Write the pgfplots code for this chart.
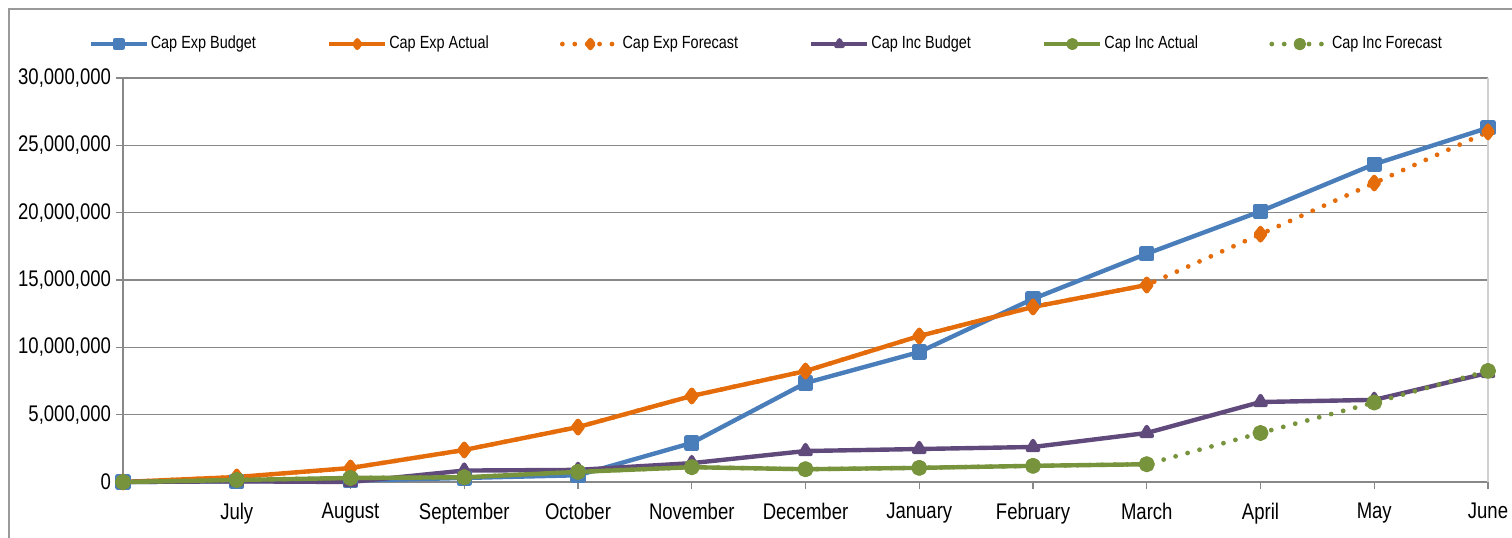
\documentclass[border=0pt]{standalone}
\usepackage{fontspec}
\setmainfont{Liberation Sans}[FakeStretch=0.82]
\usepackage{pgfplots}
\pgfplotsset{compat=1.18}
\definecolor{cblue}{HTML}{4A7EBB}
\definecolor{corange}{HTML}{E46C0A}
\definecolor{cpurple}{HTML}{604A7B}
\definecolor{cgreen}{HTML}{77933C}
\definecolor{gridgray}{HTML}{888888}
\definecolor{framegray}{HTML}{9A9A9A}
\begin{document}
\begin{tikzpicture}
\clip (0,0) rectangle (756pt,268.5pt);
\path[use as bounding box] (0,0) rectangle (756pt,268.5pt);
\draw[framegray, line width=1.1pt] (4.4pt,-10pt) -- (4.4pt,263.9pt) -- (770pt,263.9pt);
\begin{axis}[
  at={(61.5pt,27.5pt)}, anchor=south west,
  scale only axis, width=682.5pt, height=202pt,
  xmin=0, xmax=12, ymin=0, ymax=30000000,
  axis x line*=bottom, axis y line*=left,
  axis line style={gridgray, line width=0.7pt},
  xtick={1,...,12},
  xticklabels={July,August,September,October,November,December,January,February,March,April,May,June},
  xticklabel style={yshift=-3.5pt},
  ytick={0,5000000,10000000,15000000,20000000,25000000,30000000},
  scaled y ticks=false,
  yticklabel style={xshift=1pt, /pgf/number format/fixed, /pgf/number format/1000 sep={,}, /pgf/number format/assume math mode=true},
  ticklabel style={font=\fontsize{11.3}{13}\selectfont, text=black},
  tick align=outside, major tick length=3.5pt,
  tick style={gridgray, line width=0.7pt},
  ymajorgrids, major grid style={gridgray, line width=0.7pt},
  clip=false,
  legend columns=6,
  legend style={draw=none, fill=none, at={(-0.0255,1.084)}, anchor=west,
    font=\fontsize{8.8}{10}\selectfont, inner sep=0pt,
    nodes={inner sep=0.6pt},
    /tikz/every odd column/.append style={column sep=0.3pt},
    /tikz/every even column/.append style={column sep=35pt}},
  legend image code/.code={\draw[mark repeat=2,mark phase=2,#1, mark size=1.9pt] plot coordinates {(0pt,0pt) (14pt,0pt) (28pt,0pt)};},
  every axis plot/.append style={line width=2.2pt, line join=round},
]
\draw[black!18, line width=0.6pt] (rel axis cs:1,0) -- (rel axis cs:1,1);
\addplot[cblue, mark=square*, mark size=2.7pt, mark options={solid}] coordinates {
(0,0) (1,50000) (2,100000) (3,300000) (4,500000) (5,2900000) (6,7350000) (7,9650000) (8,13600000) (9,16950000) (10,20100000) (11,23600000) (12,26300000)};
\addlegendentry{Cap Exp Budget}
\addplot[corange, mark=diamond*, mark size=3pt, mark options={solid}] coordinates {
(0,0) (1,370000) (2,1040000) (3,2380000) (4,4080000) (5,6390000) (6,8240000) (7,10840000) (8,13000000) (9,14630000)};
\addlegendentry{Cap Exp Actual}
\addplot[corange, line width=2.4pt, line cap=round, dash pattern=on 0pt off 6.2pt, mark=diamond*, mark size=3pt, mark options={solid}] coordinates {
(0,0) (1,370000) (2,1040000) (3,2380000) (4,4080000) (5,6390000) (6,8240000) (7,10840000) (8,13000000) (9,14630000) (10,18400000) (11,22200000) (12,26000000)};
\addlegendentry{Cap Exp Forecast}
\addplot[cpurple, mark=triangle*, mark size=3pt, mark options={solid}] coordinates {
(0,0) (1,50000) (2,0) (3,850000) (4,900000) (5,1400000) (6,2300000) (7,2450000) (8,2600000) (9,3640000) (10,5940000) (11,6100000) (12,8100000)};
\addlegendentry{Cap Inc Budget}
\addplot[cgreen, mark=*, mark size=2.8pt, mark options={solid}] coordinates {
(0,0) (1,150000) (2,300000) (3,350000) (4,750000) (5,1100000) (6,950000) (7,1050000) (8,1200000) (9,1320000)};
\addlegendentry{Cap Inc Actual}
\addplot[cgreen, line width=2.4pt, line cap=round, dash pattern=on 0pt off 6.2pt, mark=*, mark size=2.8pt, mark options={solid}] coordinates {
(0,0) (1,150000) (2,300000) (3,350000) (4,750000) (5,1100000) (6,950000) (7,1050000) (8,1200000) (9,1320000) (10,3640000) (11,5900000) (12,8250000)};
\addlegendentry{Cap Inc Forecast}
\end{axis}
\end{tikzpicture}
\end{document}
